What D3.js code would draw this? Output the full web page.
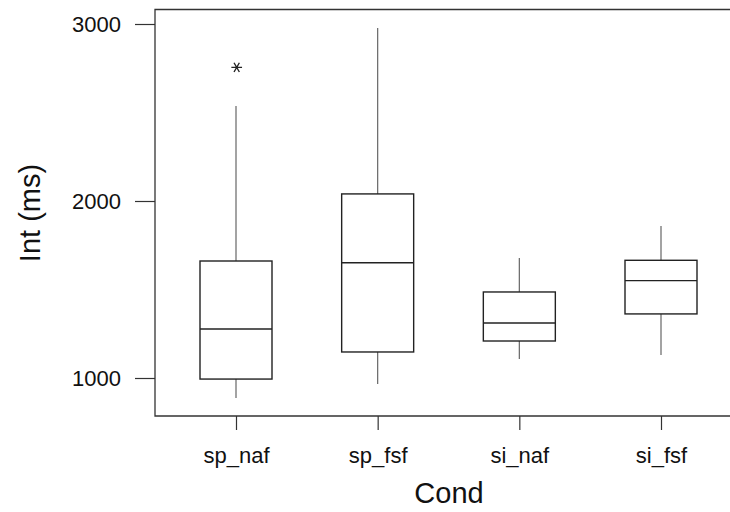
<!DOCTYPE html>
<html>
<head>
<meta charset="utf-8">
<script src="https://cdn.jsdelivr.net/npm/d3@7"></script>
<style>
  html, body { margin: 0; padding: 0; background: #fff; }
  svg { display: block; }
  text { font-family: "Liberation Sans", Arial, Helvetica, sans-serif; fill: #111; }
</style>
</head>
<body>
<svg id="chart" width="730" height="512"></svg>
<script>
const categories = ["sp_naf", "sp_fsf", "si_naf", "si_fsf"];
const whiskerLow  = [887, 966, 1107, 1130];
const q1          = [994, 1147, 1209, 1362];
const median      = [1277, 1651, 1311, 1550];
const q3          = [1661, 2040, 1486, 1665];
const whiskerHigh = [2537, 2977, 1678, 1859];
const outliers    = [[2755], [], [], []];
const yTicks      = [1000, 2000, 3000];
const xTitle = "Cond";
const yTitle = "Int (ms)";

const svg = d3.select("#chart");
const frame = { left: 155, top: 9.5, bottom: 416, right: 745 };

const x = d3.scalePoint().domain(categories).range([236, 661]);
const y = d3.scaleLinear().domain([1000, 3000]).range([378, 24]);
const boxW = 72;

// frame
svg.append("path")
  .attr("d", `M${frame.right},${frame.top}H${frame.left}V${frame.bottom}H${frame.right}`)
  .attr("fill", "none").attr("stroke", "#333").attr("stroke-width", 1.3);

// y axis
const yAxis = d3.axisLeft(y).tickValues(yTicks).tickSize(20).tickPadding(14).tickFormat(d3.format("d"));
const gy = svg.append("g").attr("transform", `translate(${frame.left},0)`).call(yAxis);
gy.select(".domain").remove();
gy.selectAll(".tick line").attr("stroke", "#333").attr("stroke-width", 1.2);
gy.selectAll(".tick text").attr("font-size", 22).style("fill", "#111");

// x axis
const xAxis = d3.axisBottom(x).tickSize(14).tickPadding(17);
const gx = svg.append("g").attr("transform", `translate(0,${frame.bottom})`).call(xAxis);
gx.select(".domain").remove();
gx.selectAll(".tick line").attr("stroke", "#333").attr("stroke-width", 1.2);
gx.selectAll(".tick text").attr("font-size", 22).style("fill", "#111");

// boxes
const data = categories.map((c, i) => ({
  c, lo: whiskerLow[i], q1: q1[i], med: median[i], q3: q3[i], hi: whiskerHigh[i], out: outliers[i]
}));

const g = svg.append("g");
data.forEach(d => {
  const cx = x(d.c);
  g.append("line").attr("x1", cx).attr("x2", cx).attr("y1", y(d.q3)).attr("y2", y(d.hi))
    .attr("stroke", "#666").attr("stroke-width", 1.2);
  g.append("line").attr("x1", cx).attr("x2", cx).attr("y1", y(d.q1)).attr("y2", y(d.lo))
    .attr("stroke", "#666").attr("stroke-width", 1.2);
  g.append("rect").attr("x", cx - boxW / 2).attr("width", boxW)
    .attr("y", y(d.q3)).attr("height", y(d.q1) - y(d.q3))
    .attr("fill", "none").attr("stroke", "#222").attr("stroke-width", 1.4);
  g.append("line").attr("x1", cx - boxW / 2).attr("x2", cx + boxW / 2)
    .attr("y1", y(d.med)).attr("y2", y(d.med))
    .attr("stroke", "#222").attr("stroke-width", 1.4);
  d.out.forEach(v => {
    g.append("path")
      .attr("d", d3.symbol().type(d3.symbolAsterisk).size(80)())
      .attr("transform", `translate(${cx + 0.7},${y(v)}) rotate(90)`)
      .attr("fill", "none").attr("stroke", "#222").attr("stroke-width", 1.4);
  });
});

// titles
svg.append("text").attr("x", (x(categories[0]) + x(categories[3])) / 2 + 0.5).attr("y", 503)
  .attr("text-anchor", "middle").attr("font-size", 29).text(xTitle);
svg.append("text").attr("transform", "translate(40,213) rotate(-90)")
  .attr("text-anchor", "middle").attr("font-size", 29).text(yTitle);
</script>
</body>
</html>
